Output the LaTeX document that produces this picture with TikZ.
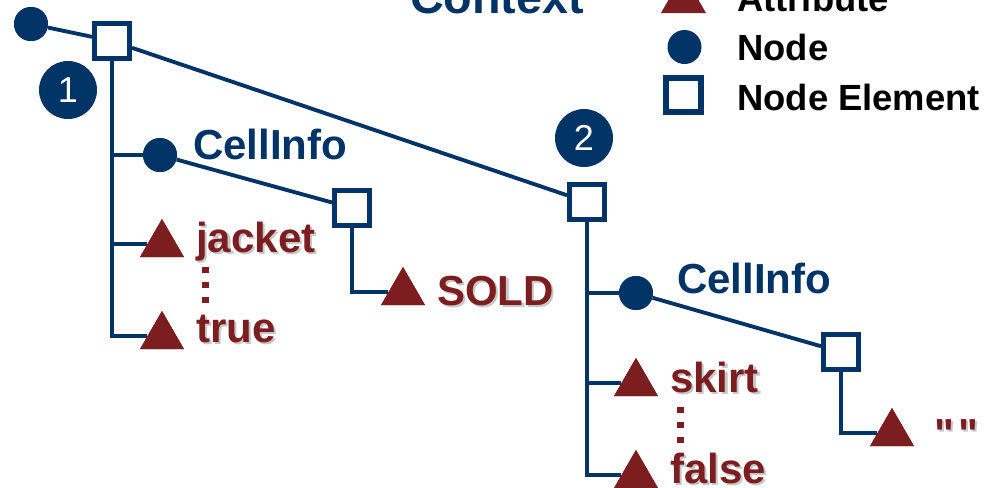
\documentclass[tikz,border=0pt]{standalone}
\usepackage{fontspec}
\setmainfont{Liberation Sans}
\newfontfamily\rawsans{Liberation Sans}[Ligatures=TeXOff]
\usetikzlibrary{shapes.geometric}
\definecolor{navy}{RGB}{0,51,102}
\definecolor{wine}{RGB}{124,30,32}
\newcommand{\shadowed}[1]{\makebox[0pt][l]{\raisebox{-1.6pt}{\hspace{1.6pt}\textcolor{black!22}{#1}}}#1}
\tikzset{
  link/.style={draw=navy, line width=2.9pt},
  nodedot/.style={circle, fill=navy, inner sep=0pt, minimum size=25.5pt},
  elembox/.style={rectangle, draw=navy, line width=3.4pt, fill=white, inner sep=0pt, minimum size=26.6pt},
  attrtri/.style={regular polygon, regular polygon sides=3, fill=wine, inner sep=0pt, minimum size=38.1pt},
  badge/.style={circle, fill=navy, text=white, inner sep=0pt, minimum size=43.5pt,
    font=\fontsize{27}{30}\selectfont},
  nodelabel/.style={anchor=base west, inner sep=0pt, text=navy, font=\bfseries\fontsize{31.5}{36}\selectfont},
  attrlabel/.style={anchor=base west, inner sep=0pt, text=wine, font=\bfseries\fontsize{31.5}{36}\selectfont},
  legendlabel/.style={anchor=base west, inner sep=0pt, text=black, font=\bfseries\fontsize{27.3}{32}\selectfont},
}
\begin{document}
\begin{tikzpicture}[x=0.75pt, y=-0.75pt]
\useasboundingbox (0,0) rectangle (999,487);
\clip (0,0) rectangle (999,487);

% ---- tree nodes ----
\node[nodedot] (root) at (31,24) {};
\node[elembox] (sq1) at (112,41) {};
\node[elembox] (sq2) at (587,202) {};
\node[nodedot] (n1) at (160,155) {};
\node[elembox] (sq3) at (352,208) {};
\node[attrtri] (ajacket) at (162,244.4) {};
\node[attrtri] (atrue) at (162,336.4) {};
\node[attrtri] (asold) at (403,292.4) {};
\node[nodedot] (n2) at (636,293) {};
\node[elembox] (sq4) at (841,352) {};
\node[attrtri] (aempty) at (892,433.4) {};
\node[attrtri] (askirt) at (636,383.4) {};
\node[attrtri] (afalse) at (636,475.4) {};

% ---- connectors ----
\path[link] (root) -- (sq1);
\path[link] (sq1) -- (sq2);
\path[link] (sq1.south) |- (n1);
\path[link] (sq1.south) |- (ajacket);
\path[link] (sq1.south) |- (atrue);
\path[link] (n1) -- (sq3);
\path[link] (sq3.south) |- (asold);
\path[link] (sq2.south) |- (n2);
\path[link] (sq2.south) |- (askirt);
\path[link] (sq2.south) |- (afalse);
\path[link] (n2) -- (sq4);
\path[link] (sq4.south) |- (aempty);

% symbols drawn again over the connector ends
\node[nodedot] at (root) {};
\node[elembox] at (sq1) {};
\node[elembox] at (sq2) {};
\node[nodedot] at (n1) {};
\node[elembox] at (sq3) {};
\node[attrtri] at (ajacket) {};
\node[attrtri] at (atrue) {};
\node[attrtri] at (asold) {};
\node[nodedot] at (n2) {};
\node[elembox] at (sq4) {};
\node[attrtri] at (aempty) {};
\node[attrtri] at (askirt) {};
\node[attrtri] at (afalse) {};

% ---- numbered badges ----
\node[badge] (b1) at (68,90) {1};
\node[badge] (b2) at (584,138) {2};

% ---- labels ----
\node[nodelabel] (l1) at (193,159) {CellInfo};
\node[nodelabel] (l2) at (677,293) {CellInfo};
\node[attrlabel] (tjacket) at (196,252) {\shadowed{jacket}};
\node[attrlabel] (ttrue) at (196,342) {\shadowed{true}};
\node[attrlabel] (tsold) at (437,305) {\shadowed{SOLD}};
\node[attrlabel] (tskirt) at (670,392) {\shadowed{skirt}};
\node[attrlabel] (tfalse) at (670,483) {\shadowed{false}};
\node[attrlabel] (tempty) at (934,448) {\rawsans\bfseries\shadowed{"\hspace{3pt}"}};

% vertical ellipsis dots
\foreach \yy in {270,285,300} \fill[wine] (201.5,\yy-3) rectangle (208.5,\yy+3);
\foreach \yy in {410,425,440} \fill[wine] (676.5,\yy-3) rectangle (683.5,\yy+3);

% ---- legend ----
\node[anchor=base west, inner sep=0pt, text=navy, font=\bfseries\fontsize{35}{40}\selectfont] (ctx) at (410,13) {Context};
\node[attrtri, minimum size=39pt] (legtri) at (683.5,0) {};
\node[legendlabel] (legattr) at (737,11) {Attribute};
\node[nodedot] (legnode) at (684.5,47) {};
\node[legendlabel] (legnodet) at (737,60) {Node};
\node[rectangle, draw=navy, line width=4.4pt, fill=white, inner sep=0pt, minimum width=26.3pt, minimum height=25.5pt] (legelem) at (683.5,95) {};
\node[legendlabel] (legelemt) at (737,110) {Node Element};
\end{tikzpicture}
\end{document}
